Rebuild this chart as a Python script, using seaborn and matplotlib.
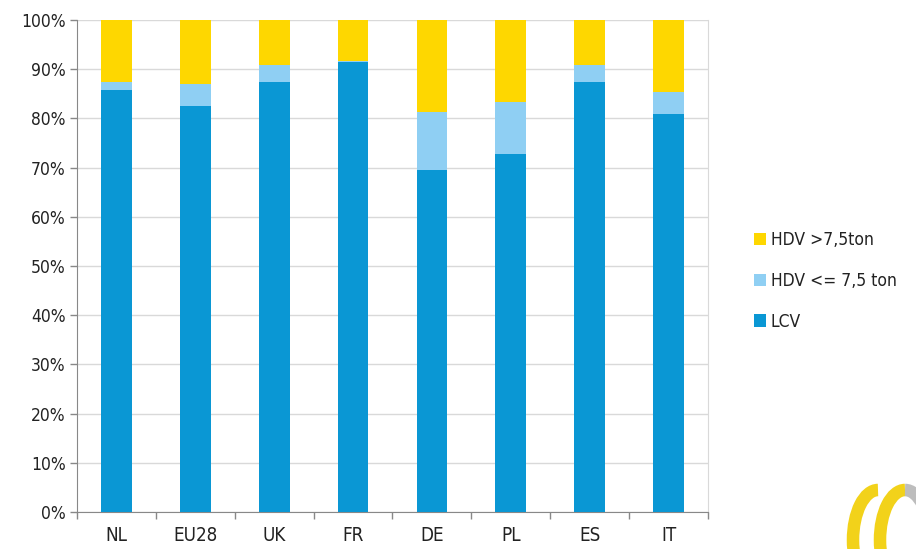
import numpy as np
import pandas as pd
import matplotlib
matplotlib.use("Agg")
import matplotlib.pyplot as plt
import seaborn as sns
from matplotlib.patches import Arc
from matplotlib.ticker import FuncFormatter, FixedLocator

# ============================================================
# DATA (shares in %)
# ============================================================
countries = ["NL", "EU28", "UK", "FR", "DE", "PL", "ES", "IT"]
lcv = [85.8, 82.5, 87.4, 91.5, 69.5, 72.8, 87.4, 80.9]
hdv_light = [1.7, 4.5, 3.5, 0.2, 11.8, 10.6, 3.5, 4.5]
hdv_heavy = [12.5, 13.0, 9.1, 8.3, 18.7, 16.6, 9.1, 14.6]

df = pd.DataFrame({"country": countries, "lcv": lcv,
                   "light": hdv_light, "heavy": hdv_heavy})
df["cum_light"] = df["lcv"] + df["light"]
df["cum_heavy"] = df["cum_light"] + df["heavy"]

c_lcv = "#0a97d4"
c_light = "#8fcff3"
c_heavy = "#fed700"

sns.set_style("white")
plt.rcParams["font.family"] = ["DejaVu Sans"]
plt.rcParams["font.stretch"] = "condensed"

fig = plt.figure(figsize=(9.16, 5.49), dpi=100)
ax = fig.add_axes([77 / 916, 1 - 512 / 549, 631 / 916, 492 / 549])

# stacked bars: draw cumulative totals back-to-front
bar_kw = dict(width=0.39, saturation=1, ax=ax, linewidth=0, zorder=3)
sns.barplot(data=df, x="country", y="cum_heavy", color=c_heavy,
            label="HDV >7,5ton", **bar_kw)
sns.barplot(data=df, x="country", y="cum_light", color=c_light,
            label="HDV <= 7,5 ton", **bar_kw)
sns.barplot(data=df, x="country", y="lcv", color=c_lcv,
            label="LCV", **bar_kw)
handles, labels = ax.get_legend_handles_labels()
if ax.legend_ is not None:
    ax.legend_.remove()

ax.set_xlim(-0.5, len(countries) - 0.5)
ax.set_ylim(0, 100)
ax.set_yticks(np.arange(0, 101, 10))
ax.yaxis.set_major_formatter(FuncFormatter(lambda v, p: f"{v:.0f}%"))
ax.grid(axis="y", color="#d9d9d9", linewidth=1, zorder=0)
ax.set_axisbelow(True)
ax.set_xlabel("")
ax.set_ylabel("")

# axis styling similar to spreadsheet charts
ax.spines["top"].set_visible(False)
ax.spines["right"].set_color("#d9d9d9")
ax.spines["left"].set_color("#888888")
ax.spines["bottom"].set_color("#888888")
ax.tick_params(axis="y", which="major", left=True, length=5, width=1,
               color="#888888", direction="out",
               labelsize=12.5, labelcolor="#222222", pad=3)
ax.tick_params(axis="x", which="major", bottom=False, length=0,
               labelsize=13.5, labelcolor="#222222", pad=10)
ax.xaxis.set_minor_locator(FixedLocator(np.arange(-0.5, len(countries), 1)))
ax.tick_params(axis="x", which="minor", bottom=True, length=5, width=1,
               color="#888888", direction="out")

# legend (heavy on top)
leg = fig.legend(handles, labels, loc="center left",
                 bbox_to_anchor=(738 / 916, 1 - 281 / 549),
                 frameon=False, fontsize=12.5, handlelength=0.7,
                 handleheight=0.7, handletextpad=0.3, labelspacing=1.3)
for t in leg.get_texts():
    t.set_color("#222222")

# small logo-like rings in the bottom right corner
ring_kw = dict(transform=fig.transFigure, linewidth=9)
fig.add_artist(Arc((878 / 916, 1 - 540 / 549), 50 / 916, 100 / 549,
                   theta1=90, theta2=270, color="#f2d21a", **ring_kw))
fig.add_artist(Arc((905 / 916, 1 - 540 / 549), 50 / 916, 100 / 549,
                   theta1=90, theta2=270, color="#f2d21a", **ring_kw))
fig.add_artist(Arc((905 / 916, 1 - 540 / 549), 50 / 916, 100 / 549,
                   theta1=0, theta2=90, color="#bdbdbd", **ring_kw))

fig.savefig("out.png", dpi=100)
